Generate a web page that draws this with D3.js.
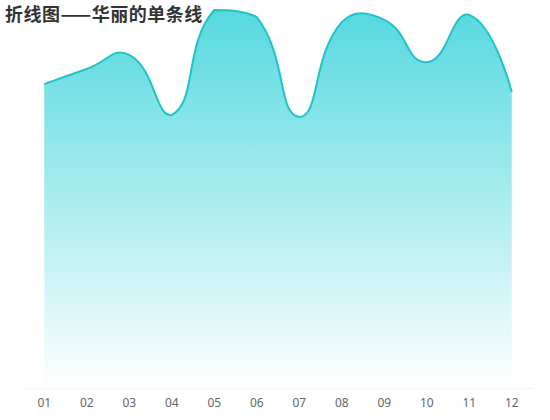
<!DOCTYPE html>
<html>
<head>
<meta charset="utf-8">
<script src="https://cdn.jsdelivr.net/npm/d3@7"></script>
<style>
  html, body { margin: 0; padding: 0; background: #fff; }
  svg { display: block; }
</style>
</head>
<body>
<svg id="chart" width="550" height="420"></svg>
<script>
// chart data
const title = "折线图——华丽的单条线";
const months = ["01", "02", "03", "04", "05", "06", "07", "08", "09", "10", "11", "12"];
const values = [80.4, 84.4, 88.1, 72.2, 100, 98.1, 71.7, 96.8, 97.4, 86.2, 98.7, 78.3];

const width = 550;
const height = 420;
const grid = { left: 23, right: 533, top: 10, bottom: 388 };

const svg = d3.select("#chart");

// Scales
const x = d3.scaleBand()
    .domain(months)
    .range([grid.left, grid.right]);

const y = d3.scaleLinear()
    .domain([0, 100])
    .range([grid.bottom, grid.top]);

const points = months.map((m, i) => [x(m) + x.bandwidth() / 2, y(values[i])]);

// smooth line, control points kept inside the points' bounding box
function smoothPath(pts, smooth, ctx) {
    const minX = d3.min(pts, p => p[0]), maxX = d3.max(pts, p => p[0]);
    const minY = d3.min(pts, p => p[1]), maxY = d3.max(pts, p => p[1]);
    const clamp = p => [Math.max(minX, Math.min(maxX, p[0])), Math.max(minY, Math.min(maxY, p[1]))];
    let cp0 = pts[0].slice();
    ctx.moveTo(pts[0][0], pts[0][1]);
    for (let i = 1; i < pts.length; i++) {
        const p = pts[i];
        const prev = pts[i - 1];
        const next = pts[i + 1];
        let cp1, v = [0, 0], ratio = 0.5;
        if (!next) {
            cp1 = p.slice();
        } else {
            v = [next[0] - prev[0], next[1] - prev[1]];
            const lenPrev = Math.hypot(p[0] - prev[0], p[1] - prev[1]);
            const lenNext = Math.hypot(next[0] - p[0], next[1] - p[1]);
            ratio = lenNext / (lenNext + lenPrev);
            cp1 = [p[0] - v[0] * smooth * (1 - ratio), p[1] - v[1] * smooth * (1 - ratio)];
        }
        cp0 = clamp(cp0);
        cp1 = clamp(cp1);
        ctx.bezierCurveTo(cp0[0], cp0[1], cp1[0], cp1[1], p[0], p[1]);
        cp0 = [p[0] + v[0] * smooth * ratio, p[1] + v[1] * smooth * ratio];
    }
    return ctx;
}

// Gradient
const defs = svg.append("defs");
const grad = defs.append("linearGradient")
    .attr("id", "areaFill")
    .attr("x1", 0).attr("y1", 0)
    .attr("x2", 0).attr("y2", 1);
grad.append("stop").attr("offset", "0%").attr("stop-color", "#55d9df");
grad.append("stop").attr("offset", "100%").attr("stop-color", "#55d9df").attr("stop-opacity", 0);

// Area
const areaPath = smoothPath(points, 0.5, d3.path());
areaPath.lineTo(points[points.length - 1][0], y(0));
areaPath.lineTo(points[0][0], y(0));
areaPath.closePath();

svg.append("path")
    .attr("d", areaPath.toString())
    .attr("fill", "url(#areaFill)");

// Axis
const xAxis = svg.append("g")
    .attr("transform", `translate(0,${grid.bottom})`)
    .call(d3.axisBottom(x).tickSize(0).tickPadding(10));

xAxis.select(".domain").attr("stroke", "#f2f2f2");
xAxis.selectAll("text")
    .attr("fill", "#666")
    .style("font-family", "'Noto Sans', sans-serif")
    .style("font-size", "12px");

// Line
svg.append("path")
    .attr("d", smoothPath(points, 0.5, d3.path()).toString())
    .attr("fill", "none")
    .attr("stroke", "#1fc4c8")
    .attr("stroke-width", 2)
    .attr("stroke-linejoin", "round");

// Title
svg.append("text")
    .attr("x", 5)
    .attr("y", 21)
    .text(title)
    .style("font-family", "'Noto Sans CJK SC', sans-serif")
    .style("font-weight", "bold")
    .style("font-size", "18px")
    .style("letter-spacing", "0.5px")
    .attr("fill", "#333");
</script>
</body>
</html>
